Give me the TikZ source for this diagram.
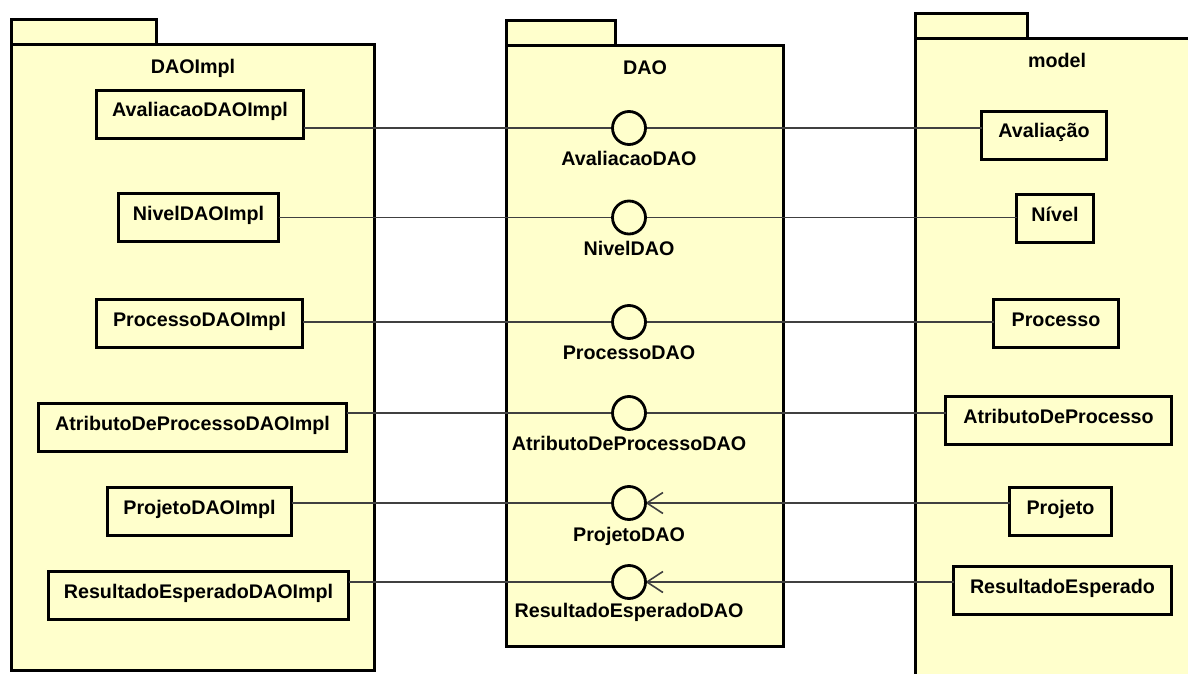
\documentclass[tikz,border=0pt]{standalone}
\usepackage{fontspec}
\setmainfont{Liberation Sans}
\usetikzlibrary{arrows.meta}
\definecolor{umlfill}{HTML}{FFFFCC}
\definecolor{connline}{HTML}{404040}

% class box: name, left, top, right, bottom, label (outer edges in px)
\newcommand\classbox[6]{%
  \node[classbox, minimum width={#4-#2-3}, anchor=north] (#1) at ({(#2+#4)/2},{#3+1.5}) {#6};}
% package: name, tab right, tab top, body left, body top, body right, body bottom, title
\newcommand\umlpackage[8]{%
  \draw[pkgline] (#4+1.5,#3+1.5) rectangle (#2-1.5,#5+1.5);
  \draw[pkgline] (#4+1.5,#5+1.5) rectangle (#6-1.5,#7-1.5);
  \node[umltext, anchor=base] (#1) at ({(#4+#6)/2},{#5+31}) {#8};}

\begin{document}
\begin{tikzpicture}[x=1pt,y=-1pt,
  umltext/.style={font=\fontsize{19.7}{22}\selectfont\bfseries, inner sep=0pt},
  classbox/.style={umltext, draw=black, fill=umlfill, line width=3pt, outer sep=0pt,
    inner xsep=0pt, inner ysep=0pt, text height=26.5pt, text depth=21.5pt},
  pkgline/.style={draw=black, fill=umlfill, line width=3pt},
  lollipop/.style={circle, minimum size=33pt, inner sep=0pt, outer sep=0pt},
  ifacelabel/.style={umltext, anchor=base},
  conn/.style={draw=connline, line width=1.3pt},
  requires/.style={conn, -{Straight Barb[length=16pt, width=21pt, line width=1.6pt]}}]

\useasboundingbox (0,0) rectangle (1188,674);
\fill[white] (0,0) rectangle (1188,674);
\clip (0,0) rectangle (1188,674);

% packages
\umlpackage{pImpl}{158}{18}{10}{43}{376}{672}{DAOImpl}
\umlpackage{pDao}{617}{19}{505}{44}{785}{648}{DAO}
\umlpackage{pModel}{1029}{12}{914}{37}{1200}{720}{model}

% provided interfaces (the ball is drawn after the connectors)
\node[lollipop] (iAval) at (629,128) {};
\node[lollipop] (iNivel) at (629,217.5) {};
\node[lollipop] (iProc) at (629,322) {};
\node[lollipop] (iAtrib) at (629,413) {};
\node[lollipop] (iProj) at (629,503) {};
\node[lollipop] (iRes) at (629,582) {};

% implementation classes
\classbox{cAvalImpl}{95}{89}{305}{140}{AvaliacaoDAOImpl}
\classbox{cNivelImpl}{117}{192}{280}{243}{NivelDAOImpl}
\classbox{cProcImpl}{95}{298}{304}{349}{ProcessoDAOImpl}
\classbox{cAtribImpl}{37}{402}{348}{453}{AtributoDeProcessoDAOImpl}
\classbox{cProjImpl}{106}{486}{293}{537}{ProjetoDAOImpl}
\classbox{cResImpl}{47}{570}{350}{622}{ResultadoEsperadoDAOImpl}

% model classes
\classbox{mAval}{980}{110}{1108}{160}{Avaliação}
\classbox{mNivel}{1015}{193}{1095}{245}{Nível}
\classbox{mProc}{992}{298}{1120}{349}{Processo}
\classbox{mAtrib}{944}{395}{1173}{446}{AtributoDeProcesso}
\classbox{mProj}{1008}{486}{1113}{537}{Projeto}
\classbox{mRes}{952}{565}{1173}{617}{ResultadoEsperado}

% connectors
\draw[conn] (cAvalImpl.east |- iAval) -- (iAval.west);
\draw[conn] (iAval.east) -- (mAval.west |- iAval);
\draw[conn] (cNivelImpl.east |- iNivel) -- (iNivel.west);
\draw[conn] (iNivel.east) -- (mNivel.west |- iNivel);
\draw[conn] (cProcImpl.east |- iProc) -- (iProc.west);
\draw[conn] (iProc.east) -- (mProc.west |- iProc);
\draw[conn] (cAtribImpl.east |- iAtrib) -- (iAtrib.west);
\draw[conn] (iAtrib.east) -- (mAtrib.west |- iAtrib);
\draw[conn] (cProjImpl.east |- iProj) -- (iProj.west);
\draw[requires] (mProj.west |- iProj) -- (iProj.east);
\draw[conn] (cResImpl.east |- iRes) -- (iRes.west);
\draw[requires] (mRes.west |- iRes) -- (iRes.east);

% interface balls
\foreach \i in {iAval,iNivel,iProc,iAtrib,iProj,iRes}
  \draw[draw=black, fill=umlfill, line width=2.8pt] (\i) circle (16.5pt);

% interface names
\node[ifacelabel] (lAval) at ([yshift=-37.5pt]iAval.center) {AvaliacaoDAO};
\node[ifacelabel] (lNivel) at ([yshift=-37.5pt]iNivel.center) {NivelDAO};
\node[ifacelabel] (lProc) at ([yshift=-37.5pt]iProc.center) {ProcessoDAO};
\node[ifacelabel] (lAtrib) at ([yshift=-37.5pt]iAtrib.center) {AtributoDeProcessoDAO};
\node[ifacelabel] (lProj) at ([yshift=-38.5pt]iProj.center) {ProjetoDAO};
\node[ifacelabel] (lRes) at ([yshift=-35pt]iRes.center) {ResultadoEsperadoDAO};
\end{tikzpicture}
\end{document}
